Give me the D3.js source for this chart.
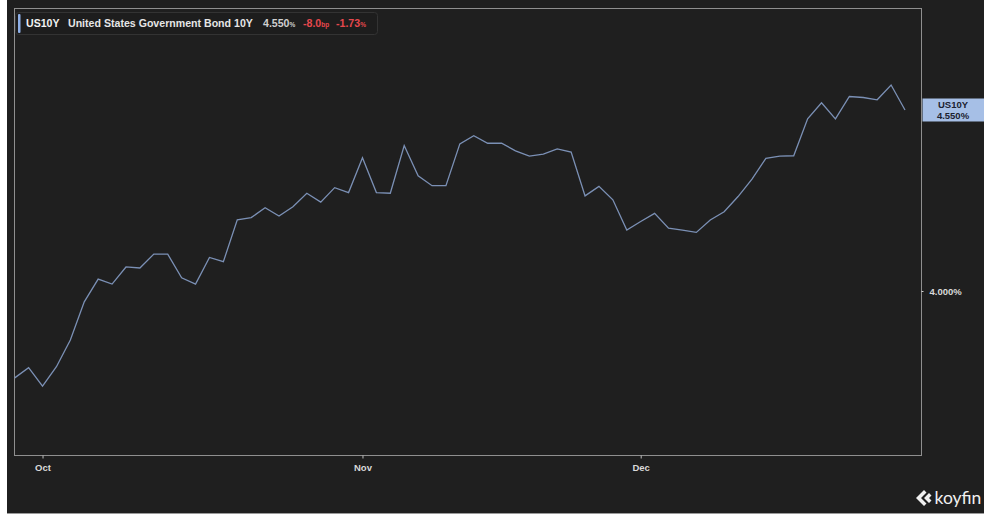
<!DOCTYPE html>
<html>
<head>
<meta charset="utf-8">
<script src="https://cdn.jsdelivr.net/npm/d3@7"></script>
<style>
  html, body { margin: 0; padding: 0; background: #ffffff; }
  svg { display: block; }
</style>
</head>
<body>
<svg id="chart" width="984" height="515"></svg>
<script>
// ---- data ----
const dates = [
  "2024-09-27","2024-09-30",
  "2024-10-01","2024-10-02","2024-10-03","2024-10-04","2024-10-07","2024-10-08","2024-10-09","2024-10-10","2024-10-11",
  "2024-10-14","2024-10-15","2024-10-16","2024-10-17","2024-10-18","2024-10-21","2024-10-22","2024-10-23","2024-10-24",
  "2024-10-25","2024-10-28","2024-10-29","2024-10-30","2024-10-31",
  "2024-11-01","2024-11-04","2024-11-05","2024-11-06","2024-11-07","2024-11-08","2024-11-11","2024-11-12","2024-11-13",
  "2024-11-14","2024-11-15","2024-11-18","2024-11-19","2024-11-20","2024-11-21","2024-11-22","2024-11-25","2024-11-26",
  "2024-11-27","2024-11-29",
  "2024-12-02","2024-12-03","2024-12-04","2024-12-05","2024-12-06","2024-12-09","2024-12-10","2024-12-11","2024-12-12",
  "2024-12-13","2024-12-16","2024-12-17","2024-12-18","2024-12-19","2024-12-20","2024-12-23","2024-12-24","2024-12-26",
  "2024-12-27","2024-12-30"
];
const us10y = [
  3.736, 3.767,
  3.711, 3.770, 3.851, 3.967, 4.036, 4.021, 4.073, 4.070, 4.112,
  4.112, 4.040, 4.021, 4.102, 4.089, 4.216, 4.223, 4.253, 4.228,
  4.256, 4.297, 4.270, 4.314, 4.299,
  4.405, 4.299, 4.297, 4.442, 4.350, 4.320, 4.320, 4.447, 4.472,
  4.449, 4.449, 4.426, 4.410, 4.416, 4.432, 4.422, 4.289, 4.318,
  4.277, 4.185,
  4.211, 4.236, 4.191, 4.185, 4.178, 4.216, 4.241, 4.287, 4.340,
  4.403, 4.410, 4.411, 4.523, 4.572, 4.523, 4.591, 4.588, 4.581,
  4.626, 4.550
];
const xTickDates = ["2024-10-01", "2024-11-01", "2024-12-02"];
const xTickLabels = ["Oct", "Nov", "Dec"];
const yTickValues = [4.0];
const lastValue = 4.550;
const changeBp = "-8.0";
const changePct = "-1.73";
const ticker = "US10Y";
const seriesName = "United States Government Bond 10Y";

// ---- layout ----
const W = 984, H = 515;
const frame = { left: 14.5, right: 921.5, top: 8.5, bottom: 455.5 };
const bg = "#1f1f1f";
const lineColor = "#7b90b5";
const frameColor = "#8f8f8f";
const textColor = "#d9d9d9";
const red = "#e5484d";

const svg = d3.select("#chart");

// dark canvas
svg.append("rect").attr("x", 7).attr("y", 0).attr("width", W - 7).attr("height", 513).attr("fill", bg);
svg.append("line").attr("x1", 7).attr("x2", W).attr("y1", 513.5).attr("y2", 513.5)
  .attr("stroke", "#9a9a9a").attr("stroke-width", 1);

// frame
svg.append("rect")
  .attr("x", frame.left).attr("y", frame.top)
  .attr("width", frame.right - frame.left).attr("height", frame.bottom - frame.top)
  .attr("fill", "none").attr("stroke", frameColor).attr("stroke-width", 1);

// scales
const x = d3.scalePoint().domain(dates).range([14.7, 905]);
const y = d3.scaleLinear().domain([4.0, 4.55]).range([291, 110]);

// line
const data = dates.map((d, i) => ({ d, v: us10y[i] }));
svg.append("path")
  .datum(data)
  .attr("fill", "none")
  .attr("stroke", lineColor)
  .attr("stroke-width", 1.3)
  .attr("stroke-linejoin", "miter")
  .attr("d", d3.line().x(p => x(p.d)).y(p => y(p.v)));

// x axis
const xAxis = d3.axisBottom(x)
  .tickValues(xTickDates)
  .tickFormat((d) => xTickLabels[xTickDates.indexOf(d)])
  .tickSize(3)
  .tickPadding(6);
const gx = svg.append("g").attr("transform", `translate(0,${frame.bottom})`).call(xAxis);
gx.select(".domain").remove();
gx.selectAll(".tick line").attr("stroke", "#bdbdbd");
gx.selectAll(".tick text")
  .attr("fill", textColor)
  .attr("font-family", "Liberation Sans, Arial, sans-serif")
  .attr("font-size", 9.5)
  .attr("font-weight", "bold");

// y axis (right)
const yAxis = d3.axisRight(y)
  .tickValues(yTickValues)
  .tickFormat(v => d3.format(".3f")(v) + "%")
  .tickSize(2)
  .tickPadding(6);
const gy = svg.append("g").attr("transform", `translate(${frame.right},0)`).call(yAxis);
gy.select(".domain").remove();
gy.selectAll(".tick line").attr("stroke", "#d0d0d0");
gy.selectAll(".tick text")
  .attr("fill", textColor)
  .attr("font-family", "Liberation Sans, Arial, sans-serif")
  .attr("font-size", 9.5)
  .attr("font-weight", "bold");

// last value label
const ly = y(lastValue);
svg.append("rect").attr("x", frame.right + 1).attr("y", ly - 11.5).attr("width", W - frame.right - 1).attr("height", 23)
  .attr("fill", "#a6bfe6");
const lbl = svg.append("text").attr("x", 953).attr("text-anchor", "middle")
  .attr("font-family", "Liberation Sans, Arial, sans-serif").attr("font-size", 9.5).attr("font-weight", "bold")
  .attr("fill", "#1c2230");
lbl.append("tspan").attr("x", 953).attr("y", ly - 2).text(ticker);
lbl.append("tspan").attr("x", 953).attr("y", ly + 8.5).text(d3.format(".3f")(lastValue) + "%");

// header box
const hdr = svg.append("g");
hdr.append("rect").attr("x", 15.5).attr("y", 12.5).attr("width", 362).attr("height", 22).attr("rx", 3)
  .attr("fill", "#1d1d1d").attr("stroke", "#333333");
hdr.append("rect").attr("x", 18).attr("y", 14).attr("width", 2.5).attr("height", 19).attr("rx", 1)
  .attr("fill", "#8fb0e8");
const ht = hdr.append("text").attr("y", 27)
  .attr("font-family", "Liberation Sans, Arial, sans-serif").attr("font-weight", "bold").attr("font-size", 10.6);
ht.append("tspan").attr("x", 26).attr("fill", "#f2f2f2").text(ticker);
ht.append("tspan").attr("x", 68).attr("fill", "#e6e6e6").text(seriesName);
ht.append("tspan").attr("x", 263).attr("fill", "#cfcfcf").text(d3.format(".3f")(lastValue));
ht.append("tspan").attr("fill", "#cfcfcf").attr("font-size", 6.5).text("%");
ht.append("tspan").attr("x", 303).attr("fill", red).text(changeBp);
ht.append("tspan").attr("fill", red).attr("font-size", 6.5).text("bp");
ht.append("tspan").attr("x", 336).attr("fill", red).text(changePct);
ht.append("tspan").attr("fill", red).attr("font-size", 6.5).text("%");

// koyfin logo
const logo = svg.append("g").attr("transform", "translate(916,490)");
logo.append("path")
  .attr("d", "M8,0 L0,8 L8,16 L10.5,13.5 L5,8 L10.5,2.5 Z M13,3 L8,8 L13,13 L15.5,10.5 L13,8 L15.5,5.5 Z")
  .attr("fill", "#f0f0f0");
svg.append("text").attr("x", 934.5).attr("y", 504)
  .attr("font-family", "Lato, 'Open Sans', sans-serif").attr("font-size", 17.5)
  .attr("fill", "#f0f0f0").text("koyfin");
</script>
</body>
</html>
